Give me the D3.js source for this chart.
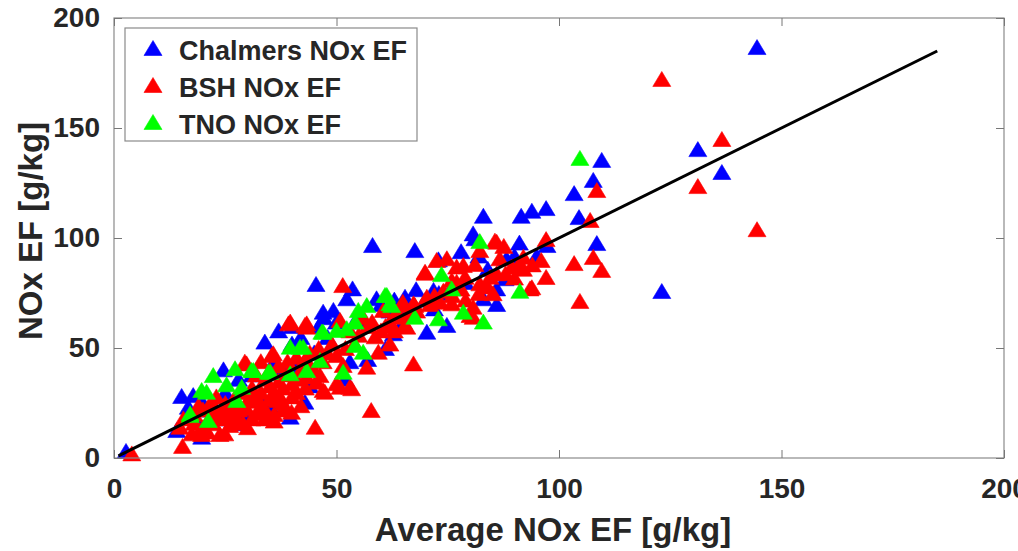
<!DOCTYPE html>
<html lang="en">
<head>
<meta charset="UTF-8">
<title>NOx EF</title>
<script src="https://cdn.jsdelivr.net/npm/d3@7"></script>
<style>
  body { margin: 0; background: #fff; }
  text { font-family: "Liberation Sans", Arial, sans-serif; font-weight: bold; fill: #262626; }
</style>
</head>
<body>
<div id="chart"></div>
<script>
// [average NOx EF, NOx EF] pairs
var chalmers = [
  [2.7,3.2],[14.1,12.7],[19.7,9.7],[15.2,28.2],[17.8,28.6],[16.7,23.3],[24.6,40.3],[29.2,15.8],[33.9,52.9],[39.6,18.8],
  [42.9,25.6],[47,66.5],[49.3,67.3],[52.3,72.6],[45.4,79.1],[53.6,77.1],[47.2,64],[58.1,96.8],[59,72.6],[62.8,56.7],
  [65.4,73.3],[67.6,94.5],[67.9,76.7],[70.3,57.4],[71.8,76.4],[72.9,90.3],[74.8,60.5],[80.7,102.1],[81.1,99.9],[83,110.1],
  [83,72.6],[86,77.1],[87.9,81.7],[88.2,90.8],[91.1,97.9],[91.5,110.1],[93.9,112.4],[97.1,113.6],[97.3,96.8],[103.4,120.4],
  [104.5,109.5],[107.7,126.4],[108.5,97.7],[109.6,135.5],[123.1,75.9],[131.2,140.4],[136.6,130],[144.5,186.8],
  [20,25],[25,30],[28,36],[31,38],[33,28],[36,44],[38,40],[40,52],[42,55],[44,33],[46,60],[50,62],[55,65],[57,45],
  [60,70],[63,72],[66,68],[70,72],[73,75],[76,78],[79,80],[84,86],[86,70],[90,92],[30,20],[26,18],[35,24],[48,55],
  [52,36],[56,62],[62,67],[45,48],[65,62],[78,94],[82,92],[95,92],[40,60],[37,58],[21,22],[18,19],[53,44],[61,50],
  [72,68],[41,41]
];
var bsh = [
  [4,2.1],[15.4,5.5],[15.6,18],[14.8,14.2],[17.5,11.2],[19.7,10.9],[23.8,10.9],[24.9,11.2],[22.3,15.8],[19.3,12.7],
  [21.6,24.8],[23.1,21.8],[26.8,24.1],[29.8,22.6],[30.6,26.4],[32.1,20.3],[33.9,18],[29.4,43.8],[29.8,43],[35.8,47.6],
  [35.4,46.8],[36.6,26.4],[37.3,27.9],[39.9,21],[45.2,14.2],[45.5,34.7],[47,30.9],[50.8,32.4],[53,32.4],[39.6,62],
  [42.9,60.5],[39.2,61.2],[43.3,61.2],[43.3,59.7],[50.8,62.7],[51.4,78.6],[43.3,37],[46.3,37.7],[50,34],[47.4,30.1],
  [53.4,31.7],[50,46.8],[51.5,42.3],[56.8,41.5],[59.4,48.3],[58.7,55.3],[57.8,21.8],[67.3,43],[60.5,67.3],
  [62,62],[63.5,66.5],[64.3,64.2],[64.9,71],[65.8,59.7],[67.6,69.5],[64.6,69.5],[67.3,70.3],[65.4,60.5],[69.9,84.7],
  [69.9,84.2],[70.3,73.3],[72.5,90],[73.3,71],[74.8,90.8],[75.9,80.9],[75.9,70.3],[77,87],[77,80.1],[78.5,87.7],
  [78.9,82.4],[80,65],[80.7,68.8],[80.7,64.2],[81.1,88.2],[82.2,79.4],[82.2,94.5],[84.5,82.4],[85.2,74.9],[85.6,98.8],
  [86,98.3],[86.7,90.8],[87.6,96.4],[89.4,87],[90.9,87.3],[92,91.5],[93.5,77.1],[93.9,77.6],[97.1,99.5],[97.1,82.3],
  [103.4,88.6],[104.7,71.4],[107,108.2],[107.7,91.4],[108.5,121.8],[109.6,85.5],[123.1,172.3],[131.2,123.6],[136.6,145],[144.5,104],
  [18,20],[20,22],[22,20],[24,18],[26,20],[28,22],[25,25],[27,27],[30,26],[32,28],[29,30],[31,32],[33,30],[35,33],
  [34,36],[36,30],[38,32],[37,35],[40,34],[39,38],[41,36],[42,40],[44,42],[43,45],[45,40],[47,44],[48,48],[46,50],
  [49,52],[52,50],[54,52],[55,56],[53,58],[57,60],[58,62],[60,58],[56,64],[61,60],[62,52],[63,58],[66,65],[68,67],
  [71,70],[72,74],[74,76],[76,74],[78,77],[79,72],[82,75],[84,78],[86,84],[88,84],[90,82],[92,86],[94,88],[96,90],
  [20,14],[18,16],[21,12],[26,15],[28,17],[31,18],[30,14],[34,22],[36,20],[38,25],[40,28],[23,28],[19,24],[32,38],
  [35,40],[37,42],[33,44],[41,46],[44,48],[39,44],
  [27,19],[29,16],[33,24],[35,27],[38,22],[41,30],[43,32],[42,24],[36,17],[25,22],[22,25],[31,29]
];
var tno = [
  [17.1,19.5],[17.1,20.3],[21.2,17.3],[19.7,30.9],[20.8,30.1],[22.3,37.7],[25.3,33.5],[27.2,40.8],[27.6,26.4],[28.7,32.4],
  [30.9,40],[31.3,40],[34.7,39.2],[35.1,39.2],[39.6,50.6],[41.8,50.6],[39.6,38.5],[43.3,40],[42.5,50.6],[46.3,44.5],
  [46.7,57.4],[47,57.4],[50,58.2],[51.5,39.2],[52.3,59],[54.2,51.4],[54.2,62],[54.9,67.3],[56,48.3],[56.8,69.5],
  [60.9,74.1],[61.3,74.1],[62,70.3],[62.4,69.5],[67.6,64.2],[72.9,63.5],[73.6,83.6],[75.9,77.1],[78.5,66.5],[82.2,98.6],
  [83,62],[91.2,76],[104.7,136.4]
];
var xTicks = [0, 50, 100, 150, 200];
var yTicks = [0, 50, 100, 150, 200];
var fitLine = [[1, 1], [185, 185]];
var seriesNames = ["Chalmers NOx EF", "BSH NOx EF", "TNO NOx EF"];
var seriesColors = ["#0000ff", "#ff0000", "#00ff00"];

var W = 1018, H = 551;
var mLeft = 114, mRight = 1004, mTop = 18, mBottom = 458;

var svg = d3.select("#chart").append("svg")
    .attr("width", W).attr("height", H);

var x = d3.scaleLinear().domain([0, 200]).range([mLeft, mRight]);
var y = d3.scaleLinear().domain([0, 200]).range([mBottom, mTop]);

// triangle marker, centred on its box
var tri = "M0,-7.5L9,7.5L-9,7.5Z";

var series = [chalmers, bsh, tno];
series.forEach(function(pts, i) {
    svg.append("g").selectAll("path")
        .data(pts)
        .enter().append("path")
        .attr("d", tri)
        .attr("transform", function(d) { return "translate(" + x(d[0]) + "," + y(d[1]) + ")"; })
        .style("fill", seriesColors[i])
        .style("stroke", seriesColors[i])
        .style("stroke-width", 0.6);
});

// 1:1 line
svg.append("path")
    .datum(fitLine)
    .attr("d", d3.line().x(function(d) { return x(d[0]); }).y(function(d) { return y(d[1]); }))
    .style("fill", "none")
    .style("stroke", "#000")
    .style("stroke-width", 3);

// box
svg.append("rect")
    .attr("x", mLeft).attr("y", mTop)
    .attr("width", mRight - mLeft).attr("height", mBottom - mTop)
    .style("fill", "none").style("stroke", "#8a8a8a").style("stroke-width", 1.2);

// axes with inward ticks
var xAxis = svg.append("g").attr("transform", "translate(0," + mBottom + ")")
    .call(d3.axisBottom(x).tickValues(xTicks).tickSizeInner(-8).tickSizeOuter(0).tickPadding(28));
var xAxisTop = svg.append("g").attr("transform", "translate(0," + mTop + ")")
    .call(d3.axisTop(x).tickValues(xTicks).tickSizeInner(-8).tickSizeOuter(0).tickFormat(""));
var yAxis = svg.append("g").attr("transform", "translate(" + mLeft + ",0)")
    .call(d3.axisLeft(y).tickValues(yTicks).tickSizeInner(-8).tickSizeOuter(0).tickPadding(22));
var yAxisR = svg.append("g").attr("transform", "translate(" + mRight + ",0)")
    .call(d3.axisRight(y).tickValues(yTicks).tickSizeInner(-8).tickSizeOuter(0).tickFormat(""));

[xAxis, xAxisTop, yAxis, yAxisR].forEach(function(a) {
    a.select(".domain").remove();
    a.selectAll(".tick line").style("stroke", "#777").style("stroke-width", 1);
});
[xAxis, yAxis].forEach(function(a) {
    a.selectAll(".tick text")
        .style("font-size", "28px")
        .style("font-family", "'Liberation Sans', Arial, sans-serif")
        .style("font-weight", "bold")
        .style("fill", "#262626");
});
xAxis.selectAll(".tick text").attr("dy", "0.71em").attr("y", 20);
yAxis.selectAll(".tick text").attr("x", -14);

// axis labels
svg.append("text")
    .attr("x", 553).attr("y", 541)
    .attr("text-anchor", "middle")
    .style("font-size", "33px")
    .text("Average NOx EF [g/kg]");

svg.append("text")
    .attr("transform", "translate(42,231) rotate(-90)")
    .attr("text-anchor", "middle")
    .style("font-size", "33px")
    .text("NOx EF [g/kg]");

// legend
var legend = svg.append("g");
legend.append("rect")
    .attr("x", 125).attr("y", 28).attr("width", 292).attr("height", 113)
    .style("fill", "#fff").style("stroke", "#8a8a8a").style("stroke-width", 1.2);

var rows = legend.selectAll(".row")
    .data(seriesNames)
    .enter().append("g")
    .attr("class", "row")
    .attr("transform", function(d, i) { return "translate(0," + (i * 37) + ")"; });

rows.append("path")
    .attr("d", tri)
    .attr("transform", "translate(153,48)")
    .style("fill", function(d, i) { return seriesColors[i]; })
    .style("stroke", function(d, i) { return seriesColors[i]; })
    .style("stroke-width", 0.6);

rows.append("text")
    .attr("x", 179).attr("y", 60)
    .style("font-size", "27px")
    .text(function(d) { return d; });
</script>
</body>
</html>
